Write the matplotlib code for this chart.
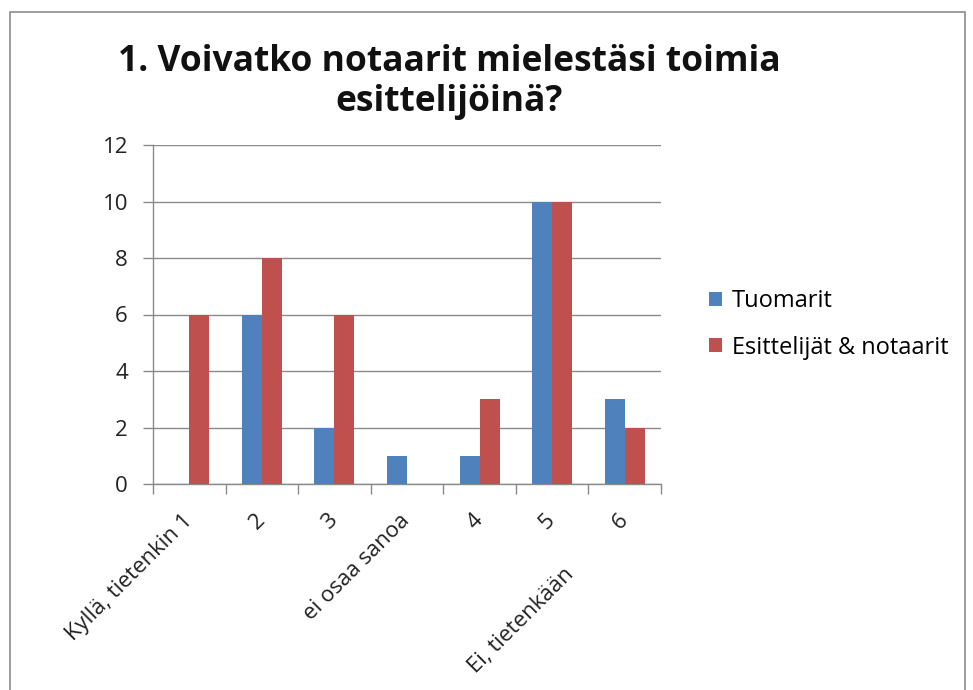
import matplotlib
matplotlib.use("Agg")
import matplotlib.pyplot as plt
import numpy as np
from matplotlib.patches import Rectangle
from matplotlib.transforms import offset_copy

categories = ["Kyllä, tietenkin 1", "2", "3", "ei osaa sanoa", "4", "5", "6"]
extra_label = "Ei, tietenkään"
series_names = ["Tuomarit", "Esittelijät & notaarit"]
tuomarit = [0, 6, 2, 1, 1, 10, 3]
esittelijat = [6, 8, 6, 0, 3, 10, 2]
yticks = [0, 2, 4, 6, 8, 10, 12]
title = "1. Voivatko notaarit mielestäsi toimia\nesittelijöinä?"

plt.rcParams['font.family'] = ['Open Sans', 'DejaVu Sans']

W, H = 973, 690
fig = plt.figure(figsize=(W / 100, H / 100), dpi=100)
fig.patch.set_facecolor('white')

# outer chart frame
fig.patches.append(Rectangle((10 / W, -0.05), 955 / W, 1 - 12 / H + 0.05,
                             transform=fig.transFigure, fill=False,
                             edgecolor='#8c8c8c', linewidth=1.2))

ax = fig.add_axes([153 / W, 1 - 484 / H, 508 / W, 339 / H])
x = np.arange(len(categories))
bw = 0.275
blue = '#4F81BD'
red = '#C0504D'
ax.bar(x - bw / 2, tuomarit, bw, color=blue, label=series_names[0], zorder=3)
ax.bar(x + bw / 2, esittelijat, bw, color=red, label=series_names[1], zorder=3)

ax.set_xlim(-0.5, len(categories) - 0.5)
ax.set_ylim(0, 12)
ax.set_yticks(yticks)
ax.set_yticklabels([str(v) for v in yticks], fontsize=16, color='#222222')
ax.yaxis.grid(True, color='#8a8a8a', linewidth=1.0, zorder=0)
ax.set_axisbelow(True)
ax.tick_params(axis='y', length=7, width=1, color='#8a8a8a', pad=11)

# category tick marks at boundaries
ax.set_xticks(np.arange(-0.5, len(categories)), minor=False)
ax.set_xticklabels([])
ax.tick_params(axis='x', which='major', length=7, width=1, color='#8a8a8a')
ax.set_xticks(x, minor=True)
lbl_fs = 16
pad_pt = 24
ax.set_xticklabels(categories, minor=True, rotation=45, ha='right', va='center',
                   rotation_mode='anchor', fontsize=lbl_fs, color='#222222')
ax.tick_params(axis='x', which='minor', length=0, pad=pad_pt)

for s in ['top', 'right']:
    ax.spines[s].set_visible(False)
for s in ['left', 'bottom']:
    ax.spines[s].set_color('#8a8a8a')
    ax.spines[s].set_linewidth(1.0)

# extra label continuing along the last category label's line
tr = offset_copy(ax.get_xaxis_transform(), fig=fig, x=-54,
                 y=-pad_pt * 100 / 72 - 54, units='dots')
ax.text(x[-1], 0, extra_label, transform=tr, rotation=45, ha='right', va='center',
        rotation_mode='anchor', fontsize=lbl_fs, color='#222222')

fig.text(449 / W, 1 - 82 / H, title, ha='center', va='center', fontsize=25.5,
         fontweight='bold', color='#111111', linespacing=1.12)

leg = fig.legend(loc='upper left', bbox_to_anchor=(688 / W, 1 - 268 / H),
                 frameon=False, fontsize=17, handlelength=0.55, handleheight=0.55,
                 handletextpad=0.4, labelspacing=0.95)

fig.savefig('out.png', dpi=100)
